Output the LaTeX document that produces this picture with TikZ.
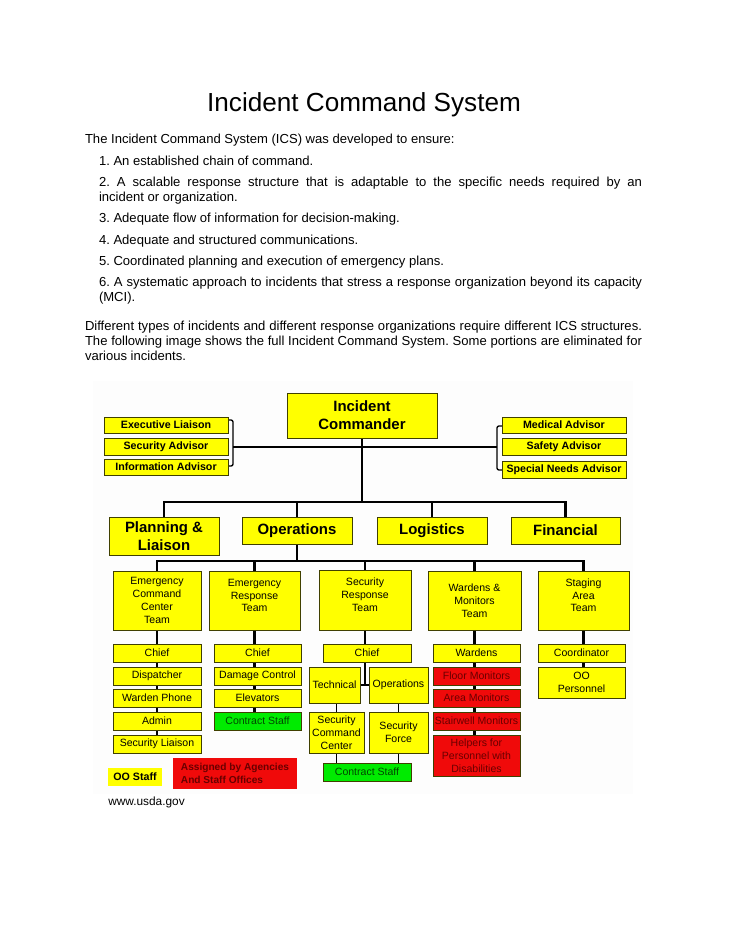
\documentclass[tikz,border=0pt]{standalone}
\usepackage{fontspec}
\setmainfont{Liberation Sans}
\frenchspacing
\pgfdeclarelayer{chartbg}
\pgfdeclarelayer{bg}
\pgfsetlayers{chartbg,bg,main}
\definecolor{ICSyellow}{RGB}{255,255,0}
\definecolor{ICSedge}{RGB}{64,64,0}
\definecolor{ICSgreen}{RGB}{0,235,0}
\definecolor{ICSgtext}{RGB}{0,70,0}
\definecolor{ICSred}{RGB}{240,10,10}
\definecolor{ICSrtext}{RGB}{105,0,0}
\definecolor{ICSpaper}{RGB}{253,253,253}
\newcommand\bodyf{\fontsize{9.8pt}{11.25pt}\selectfont}
\newcommand\fA{\fontsize{7.9pt}{9.6pt}\selectfont}
\newcommand\fB{\bfseries\fontsize{8pt}{9.6pt}\selectfont}
\newcommand\fC{\bfseries\fontsize{11.2pt}{13.5pt}\selectfont}
\newcommand\lift[2]{\raisebox{#1}[\height][\depth]{\begin{tabular}{@{}c@{}}#2\end{tabular}}}
\newcommand\bx[7]{\node[#1, minimum width={(#5-#3)*0.75pt}, minimum height={(#6-#4)*0.75pt}] (#2) at ({(#3+#5)/2},{(#4+#6)/2}) {#7};}
\tikzset{
  txt/.style={anchor=base west, inner sep=0pt, outer sep=0pt, font=\bodyf},
  box/.style={draw=ICSedge, line width=0.75pt, inner sep=0pt, outer sep=0pt, align=center, fill=ICSyellow, font=\fA, text=black},
  adv/.style={box, font=\fB},
  big/.style={box, font=\fC},
  gbox/.style={box, fill=ICSgreen, text=ICSgtext},
  rbox/.style={box, fill=ICSred, text=ICSrtext},
  leg/.style={draw=none, inner sep=0pt, outer sep=0pt, align=left},
  busline/.style={line width=2.1pt, line join=miter},
  dropline/.style={line width=1.9pt},
  chainline/.style={line width=1.7pt},
  thinline/.style={line width=0.8pt},
  brkline/.style={line width=1pt, rounded corners=1.5pt},
}
\begin{document}
\begin{tikzpicture}[x=0.75pt, y=-0.75pt]
\useasboundingbox (0,0) rectangle (728,942);

% ---------- chart background ----------
\begin{pgfonlayer}{chartbg}
\fill[white] (0,0) rectangle (728,942);
\fill[ICSpaper] (93,381) rectangle (633,794);
\end{pgfonlayer}

% ---------- text ----------
\node[anchor=base, inner sep=0pt, font=\fontsize{19.6pt}{23pt}\selectfont] (title) at (364,111) {Incident Command System};
\node[txt] (t0) at (85,143.5) {The Incident Command System (ICS) was developed to ensure:};
\node[txt] (t1) at (99,165.5) {1. An established chain of command.};
\node[txt] (t2) at (99,186.5) {\makebox[407.25pt][s]{2. A scalable response structure that is adaptable to the specific needs required by an}};
\node[txt] (t2b) at (99,201.5) {incident or organization.};
\node[txt] (t3) at (99,222.5) {3. Adequate flow of information for decision-making.};
\node[txt] (t4) at (99,244.5) {4. Adequate and structured communications.};
\node[txt] (t5) at (99,265.5) {5. Coordinated planning and execution of emergency plans.};
\node[txt] (t6) at (99,286.5) {\makebox[407.25pt][s]{6. A systematic approach to incidents that stress a response organization beyond its capacity}};
\node[txt] (t6b) at (99,301.5) {(MCI).};
\node[txt] (p1) at (85,330.5) {\makebox[417.75pt][s]{Different types of incidents and different response organizations require different ICS structures.}};
\node[txt] (p2) at (85,345.5) {\makebox[417.75pt][s]{The following image shows the full Incident Command System. Some portions are eliminated for}};
\node[txt] (p3) at (85,360.5) {various incidents.};

% ---------- top ----------
\bx{big}{ic}{287}{393}{437}{438}{Incident\\Commander}
\bx{adv}{exl}{104}{417}{228}{433}{Executive Liaison}
\bx{adv}{sea}{104}{438}{228}{455}{Security Advisor}
\bx{adv}{ina}{104}{459}{228}{475}{Information Advisor}
\bx{adv}{med}{502}{417}{626}{433}{Medical Advisor}
\bx{adv}{saf}{502}{438}{626}{455}{Safety Advisor}
\bx{adv}{snd}{502}{461}{626}{478}{Special Needs Advisor}

% ---------- sections ----------
\bx{big}{pl}{109}{517}{219}{555}{Planning \&\\Liaison}
\bx{big}{ops}{242}{517}{352}{544}{Operations}
\bx{big}{log}{377}{517}{487}{544}{Logistics}
\bx{big}{fin}{511}{517}{620}{544}{Financial}

% ---------- teams ----------
\bx{box}{ecc}{113}{571}{201}{630}{Emergency\\Command\\Center\\Team}
\bx{box}{ert}{209}{571}{300}{630}{\lift{3pt}{Emergency\\Response\\Team}}
\bx{box}{srt}{319}{570}{411}{630}{\lift{3pt}{Security\\Response\\Team}}
\bx{box}{wmt}{428}{571}{521}{630}{Wardens \&\\Monitors\\Team}
\bx{box}{sat}{538}{571}{629}{630}{\lift{3pt}{Staging\\Area\\Team}}

% ---------- column 1 ----------
\bx{box}{chiefa}{113}{644}{201}{662}{Chief}
\bx{box}{disp}{113}{667}{201}{685}{Dispatcher}
\bx{box}{wph}{113}{689}{201}{707}{Warden Phone}
\bx{box}{adm}{113}{712}{201}{730}{Admin}
\bx{box}{sli}{113}{735}{201}{753}{Security Liaison}

% ---------- column 2 ----------
\bx{box}{chiefb}{214}{644}{301}{662}{Chief}
\bx{box}{dmg}{214}{667}{301}{685}{Damage Control}
\bx{box}{elev}{214}{689}{301}{707}{Elevators}
\bx{gbox}{csa}{214}{712}{301}{730}{Contract Staff}

% ---------- column 3 ----------
\bx{box}{chiefc}{323}{644}{411}{662}{Chief}
\bx{box}{tech}{309}{667}{360}{703}{Technical}
\bx{box}{opsb}{369}{667}{428}{703}{Operations}
\bx{box}{scc}{309}{712}{364}{753}{Security\\Command\\Center}
\bx{box}{sfc}{369}{712}{428}{753}{Security\\Force}
\bx{gbox}{csb}{323}{763}{411}{781}{Contract Staff}

% ---------- column 4 ----------
\bx{box}{ward}{433}{644}{520}{662}{Wardens}
\bx{rbox}{flm}{433}{667}{520}{685}{Floor Monitors}
\bx{rbox}{arm}{433}{689}{520}{707}{Area Monitors}
\bx{rbox}{stm}{433}{712}{520}{730}{Stairwell Monitors}
\bx{rbox}{hlp}{433}{735}{520}{776}{Helpers for\\Personnel with\\Disabilities}

% ---------- column 5 ----------
\bx{box}{coord}{538}{644}{625}{662}{Coordinator}
\bx{box}{oop}{538}{667}{625}{698}{OO\\Personnel}

% ---------- legend ----------
\bx{leg, fill=ICSyellow, font=\fB}{oos}{108}{768}{162}{786}{OO Staff}
\bx{leg, fill=ICSred, text=ICSrtext, font=\bfseries\fontsize{7.6pt}{9.6pt}\selectfont}{asg}{173}{758}{297}{789}{Assigned by Agencies\\And Staff Offices}
\node[anchor=base west, inner sep=0pt, font=\fontsize{8.9pt}{10pt}\selectfont] (src) at (108,805) {www.usda.gov};

% ---------- connectors ----------
\coordinate (busa) at (364,502);
\coordinate (busb) at (297,561);
\coordinate (lbt) at (233,420);
\coordinate (lbb) at (233,466);
\coordinate (lbm) at (233,447);
\coordinate (rbt) at (497,426);
\coordinate (rbb) at (497,470);
\coordinate (rbm) at (497,447);
\begin{pgfonlayer}{bg}
% advisors brackets
\draw[brkline] (exl.east |- lbt) -- (lbt) -- (lbb) -- (ina.east |- lbb);
\draw[brkline] (med.west |- rbt) -- (rbt) -- (rbb) -- (snd.west |- rbb);
\draw[thinline] (lbm) -- (rbm);
% IC to sections
\draw[dropline] (ic.south) -- (ic.south |- busa);
\draw[busline] (pl.north) -- (pl.north |- busa) -- (fin.north |- busa) -- (fin.north);
\draw[dropline] (ops.north) -- (ops.north |- busa);
\draw[dropline] (log.north) -- (log.north |- busa);
% operations to teams
\draw[dropline] (ops.south) -- (ops.south |- busb);
\draw[busline] (ecc.north) -- (ecc.north |- busb) -- (sat.north |- busb) -- (sat.north);
\draw[dropline] (ert.north) -- (ert.north |- busb);
\draw[dropline] (srt.north) -- (srt.north |- busb);
\draw[dropline] (wmt.north) -- (wmt.north |- busb);
% team chains
\draw[dropline] (ecc.south) -- (ecc.south |- chiefa.north);
\draw[chainline] (ecc.south |- chiefa.south) -- (ecc.south |- sli.north);
\draw[dropline] (ert.south) -- (ert.south |- chiefb.north);
\draw[chainline] (ert.south |- chiefb.south) -- (ert.south |- csa.north);
\draw[dropline] (srt.south) -- (srt.south |- chiefc.north);
\draw[chainline] (srt.south |- chiefc.south) -- (srt.south |- tech.east);
\draw[thinline] (tech.east) -- (opsb.west);
\draw[thinline] (scc.north) -- (scc.north |- tech.south);
\draw[thinline] (sfc.north) -- (sfc.north |- opsb.south);
\draw[thinline] (scc.south) -- (scc.south |- csb.north);
\draw[thinline] (sfc.south) -- (sfc.south |- csb.north);
\draw[dropline] (wmt.south) -- (wmt.south |- ward.north);
\draw[chainline] (wmt.south |- ward.south) -- (wmt.south |- hlp.north);
\draw[dropline] (sat.south) -- (sat.south |- coord.north);
\draw[chainline] (sat.south |- coord.south) -- (sat.south |- oop.north);
\end{pgfonlayer}
\end{tikzpicture}
\end{document}
